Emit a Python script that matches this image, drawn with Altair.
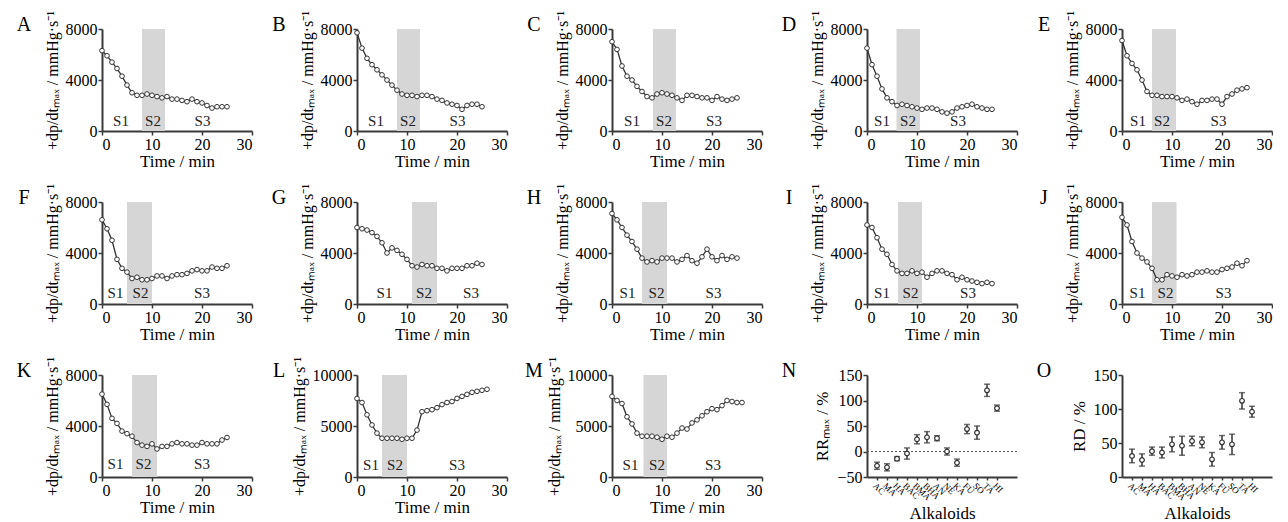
import altair as alt
import pandas as pd

FONT = "Liberation Serif"
W, H = 150, 102
LINE = "#333333"
AX = "#3a3a3a"
SHADE = "#d6d6d6"
YTITLE = "+dp/dtₘₐₓ / mmHg·s⁻¹"

t26 = list(range(26))
t27 = list(range(27))

a_vals = [6300, 5900, 5400, 4900, 4300, 3600, 3000, 2800, 2800, 2900, 2800, 2700, 2600,
          2700, 2500, 2500, 2400, 2300, 2500, 2300, 2200, 2000, 1800, 1900, 1900, 1900]
b_vals = [7700, 6500, 5700, 5200, 4800, 4400, 4000, 3600, 3200, 2900, 2800, 2800, 2700,
          2800, 2800, 2700, 2500, 2400, 2200, 2100, 2000, 1700, 2000, 2100, 2100, 1900]
c_vals = [7000, 6400, 5100, 4300, 4000, 3500, 3100, 2700, 2600, 2900, 3000, 2900, 2800,
          2600, 2400, 2800, 2800, 2700, 2600, 2600, 2400, 2700, 2500, 2400, 2500, 2600]
d_vals = [6500, 5200, 4300, 3300, 2600, 2300, 2000, 2100, 2000, 1900, 1800, 1700, 1800,
          1800, 1700, 1500, 1400, 1500, 1800, 1900, 2000, 2100, 1900, 1800, 1700, 1700]
e_vals = [7100, 5900, 5300, 4800, 4000, 3100, 2800, 2800, 2700, 2700, 2700, 2600, 2400,
          2500, 2300, 2100, 2400, 2400, 2500, 2500, 2100, 2700, 2900, 3200, 3300, 3400]
f_vals = [6600, 5900, 5000, 3500, 2800, 2500, 2000, 2100, 1900, 1900, 2000, 2200, 2200,
          2000, 2200, 2300, 2300, 2400, 2600, 2700, 2600, 2600, 2900, 2800, 2800, 3000]
g_vals = [6000, 5900, 5800, 5600, 5300, 4800, 4000, 4400, 4200, 3900, 3500, 3000, 2900,
          3100, 3000, 3000, 2800, 2800, 2600, 2800, 2800, 2800, 3000, 3000, 3200, 3100]
h_vals = [7100, 6600, 6000, 5400, 4900, 4300, 3600, 3300, 3400, 3300, 3600, 3600, 3600,
          3300, 3500, 3800, 3400, 3200, 3700, 4300, 3700, 3400, 3800, 3500, 3700, 3600]
i_vals = [6200, 6000, 5200, 4300, 3900, 3100, 2600, 2400, 2400, 2600, 2400, 2500, 2100,
          2400, 2600, 2600, 2400, 2300, 1900, 2100, 1900, 1800, 1700, 1600, 1700, 1600]
j_vals = [6800, 6200, 4900, 4000, 3600, 3300, 2800, 1900, 1900, 2300, 2200, 2100, 2300,
          2200, 2300, 2500, 2500, 2600, 2500, 2500, 2700, 2800, 2900, 3200, 3000, 3400]
k_vals = [6500, 5700, 4600, 4200, 3600, 3400, 3200, 2700, 2500, 2400, 2600, 2200, 2400,
          2400, 2600, 2700, 2600, 2600, 2500, 2500, 2700, 2600, 2600, 2600, 2900, 3100]
l_vals = [7700, 7300, 6100, 5100, 4300, 3800, 3800, 3800, 3800, 3700, 3800, 3800, 4600,
          6400, 6500, 6600, 6800, 7100, 7300, 7400, 7700, 7900, 8100, 8300, 8400, 8500, 8600]
m_vals = [7900, 7500, 7200, 5900, 5200, 4300, 4000, 4000, 4000, 3900, 3700, 4000, 3900,
          4300, 4800, 4700, 5300, 5600, 6000, 6400, 6700, 6600, 7000, 7500, 7400, 7300, 7300]

# stimulation windows (S2) and stage label positions
shades = {"A": (8, 12.6), "B": (8, 12.6), "C": (8.2, 12.8), "D": (5.9, 10.6), "E": (6, 10.8),
          "F": (5, 10), "G": (11, 16), "H": (6, 11), "I": (6.2, 11), "J": (6, 10.9),
          "K": (6, 11), "L": (5, 10), "M": (6.3, 11)}
s_x = {"A": [3.8, 10.2, 20.1], "B": [3.8, 10.2, 20.1], "C": [4, 10.4, 20.4], "D": [3, 8.2, 18.2],
       "E": [3.2, 8, 19.3], "F": [2.7, 7.7, 20], "G": [5.5, 13.4, 22.8], "H": [3.1, 8.9, 20.3],
       "I": [3, 8.7, 20.2], "J": [3.1, 8.7, 20.3], "K": [2.7, 8.3, 20], "L": [2.8, 7.6, 20],
       "M": [3.7, 9, 20.2]}
s_labels = ["S1", "S2", "S3"]

alk_names = ["AC", "MA", "HA", "BAC", "BMA", "BHA", "AN", "NE", "KA", "FU", "SO", "TA", "HI"]
rr_mean = [-28, -31, -14, -4, 24, 28, 26, 0, -22, 44, 37, 120, 85]
rr_err = [7, 7, 4, 11, 9, 11, 5, 7, 7, 9, 13, 12, 6]
rd_mean = [31, 25, 38, 36, 48, 46, 53, 51, 26, 51, 48, 112, 96]
rd_err = [10, 9, 6, 8, 11, 14, 7, 8, 10, 10, 15, 12, 8]

AXKW = dict(titleFont=FONT, labelFont=FONT, titleFontWeight="normal", titleColor="black",
            labelColor="black")


def letter_mark(letter):
    return alt.Chart(pd.DataFrame({"l": [letter]})).mark_text(
        font=FONT, fontSize=20, align="center", baseline="alphabetic", color="black"
    ).encode(x=alt.value(-78), y=alt.value(2), text="l:N")


def time_panel(letter, times, vals, ymax, yvals, sy):
    lo, hi = shades[letter]
    df = pd.DataFrame({"t": times, "v": vals})
    xs = alt.Scale(domain=[0, 30], nice=False)
    ys = alt.Scale(domain=[0, ymax], nice=False)
    xa = alt.Axis(values=[0, 10, 20, 30], title="Time / min", format="d", titleFontSize=17, **AXKW)
    ya = alt.Axis(values=yvals, title=YTITLE, format="d", titleFontSize=16, **AXKW)
    shade = alt.Chart(pd.DataFrame({"lo": [lo], "hi": [hi], "y0": [0], "y1": [ymax]})).mark_rect(
        color=SHADE).encode(
        x=alt.X("lo:Q", scale=xs, axis=xa), x2="hi:Q",
        y=alt.Y("y0:Q", scale=ys, axis=ya), y2="y1:Q")
    line = alt.Chart(df).mark_line(color=LINE, strokeWidth=1.3).encode(
        x=alt.X("t:Q", scale=xs, axis=xa), y=alt.Y("v:Q", scale=ys, axis=ya))
    pts = alt.Chart(df).mark_point(shape="circle", filled=True, fill="white", stroke=LINE,
                                   strokeWidth=1, size=22, opacity=1).encode(
        x=alt.X("t:Q", scale=xs, axis=xa), y=alt.Y("v:Q", scale=ys, axis=ya))
    lab = alt.Chart(pd.DataFrame({"x": s_x[letter], "y": [sy] * 3, "s": s_labels})).mark_text(
        font=FONT, fontSize=15, color="#222222").encode(
        x=alt.X("x:Q", scale=xs, axis=xa), y=alt.Y("y:Q", scale=ys, axis=ya), text="s:N")
    return alt.layer(shade, line, pts, lab, letter_mark(letter)).properties(width=W, height=H)


def dot_panel(letter, means, errs, ymin, ymax, yvals, ytitle, zero_line):
    idx = list(range(1, len(means) + 1))
    df = pd.DataFrame({"i": idx, "m": means,
                       "lo": [m - e for m, e in zip(means, errs)],
                       "hi": [m + e for m, e in zip(means, errs)]})
    names_js = "[" + ",".join("'%s'" % n for n in alk_names) + "]"
    xs = alt.Scale(domain=[0, 15], nice=False)
    ys = alt.Scale(domain=[ymin, ymax], nice=False)
    xa = alt.Axis(values=idx, labelExpr=names_js + "[datum.value-1]", labelAngle=45,
                  labelAlign="left", labelBaseline="top", labelFontSize=9, labelPadding=1,
                  labelOverlap=False, tickSize=3, title="Alkaloids", titlePadding=4,
                  titleFontSize=17, **AXKW)
    ya = alt.Axis(values=yvals, title=ytitle, format="d", titleFontSize=17, **AXKW)
    X = alt.X("i:Q", scale=xs, axis=xa)
    layers = []
    if zero_line:
        zl = alt.Chart(pd.DataFrame({"a": [0], "b": [15], "z": [0]})).mark_rule(
            color="#555555", strokeDash=[2, 2], strokeWidth=1).encode(
            x=alt.X("a:Q", scale=xs, axis=xa), x2="b:Q", y=alt.Y("z:Q", scale=ys, axis=ya))
        layers.append(zl)
    bars = alt.Chart(df).mark_rule(color=LINE, strokeWidth=1.5).encode(
        x=X, y=alt.Y("lo:Q", scale=ys, axis=ya), y2="hi:Q")
    cap_lo = alt.Chart(df).mark_tick(color=LINE, orient="horizontal", size=6, thickness=1.5).encode(
        x=X, y=alt.Y("lo:Q", scale=ys, axis=ya))
    cap_hi = alt.Chart(df).mark_tick(color=LINE, orient="horizontal", size=6, thickness=1.5).encode(
        x=X, y=alt.Y("hi:Q", scale=ys, axis=ya))
    pts = alt.Chart(df).mark_point(shape="circle", filled=True, fill="white", stroke=LINE,
                                   strokeWidth=1.2, size=22, opacity=1).encode(
        x=X, y=alt.Y("m:Q", scale=ys, axis=ya))
    layers += [bars, cap_lo, cap_hi, pts, letter_mark(letter)]
    return alt.layer(*layers).properties(width=W, height=H)


y8 = [0, 4000, 8000]
y10 = [0, 5000, 10000]
row1 = [time_panel("A", t26, a_vals, 8000, y8, 800), time_panel("B", t26, b_vals, 8000, y8, 800),
        time_panel("C", t26, c_vals, 8000, y8, 800), time_panel("D", t26, d_vals, 8000, y8, 800),
        time_panel("E", t26, e_vals, 8000, y8, 800)]
row2 = [time_panel("F", t26, f_vals, 8000, y8, 850), time_panel("G", t26, g_vals, 8000, y8, 850),
        time_panel("H", t26, h_vals, 8000, y8, 850), time_panel("I", t26, i_vals, 8000, y8, 850),
        time_panel("J", t26, j_vals, 8000, y8, 850)]
row3 = [time_panel("K", t26, k_vals, 8000, y8, 1000), time_panel("L", t27, l_vals, 10000, y10, 1200),
        time_panel("M", t27, m_vals, 10000, y10, 1200),
        dot_panel("N", rr_mean, rr_err, -50, 150, [-50, 0, 50, 100, 150], "RRₘₐₓ / %", True),
        dot_panel("O", rd_mean, rd_err, 0, 150, [0, 50, 100, 150], "RD / %", False)]

sp = 255 - W
chart = alt.vconcat(
    alt.hconcat(*row1, spacing=sp, bounds="flush"),
    alt.hconcat(*row2, spacing=sp, bounds="flush"),
    alt.hconcat(*row3, spacing=sp, bounds="flush"),
    spacing=173, bounds="flush",
).properties(
    padding={"left": 8, "top": 2, "right": 0, "bottom": 0}
).configure_view(stroke=None).configure_axis(
    labelFont=FONT, titleFont=FONT, labelFontSize=16, titleFontSize=17,
    domainColor=AX, domainWidth=2, tickColor=AX, tickWidth=1.5, tickSize=4,
    labelColor="black", titleColor="black", titleFontWeight="normal", grid=False,
    labelPadding=1
).configure_axisX(titlePadding=1).configure_axisY(titlePadding=5)

chart.save("out.html", embed_options={"renderer": "svg", "actions": False})
